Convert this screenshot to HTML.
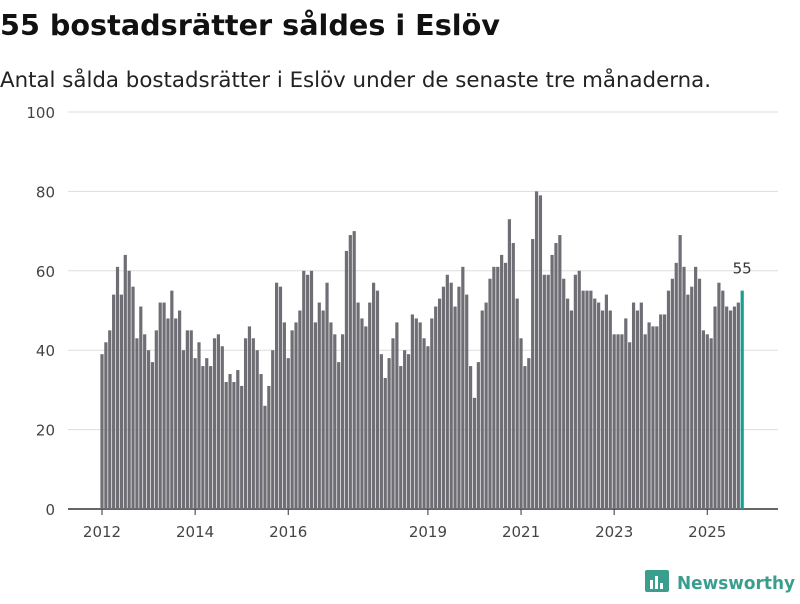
<!DOCTYPE html>
<html><head><meta charset="utf-8"><style>
body{margin:0;background:#fff;width:800px;height:600px;overflow:hidden;font-family:"DejaVu Sans",sans-serif}
</style></head><body>
<svg width="800" height="600" id="svg" font-family="DejaVu Sans, sans-serif">
<text x="0" y="35" font-size="28.5" font-weight="bold" fill="#111" textLength="500" lengthAdjust="spacingAndGlyphs">55 bostadsrätter såldes i Eslöv</text>
<text x="0" y="87" font-size="21" fill="#222" textLength="711" lengthAdjust="spacingAndGlyphs">Antal sålda bostadsrätter i Eslöv under de senaste tre månaderna.</text>
<g id="grid"></g><g id="bars"></g><g id="xaxis"></g>
<g>
<rect x="645" y="570" width="24" height="22" rx="2" fill="#3a9e8f"/>
<rect x="650" y="580" width="3" height="9" fill="#fff"/><rect x="655" y="576" width="3" height="13" fill="#fff"/><rect x="660" y="583" width="3" height="6" fill="#fff"/>
<text x="677" y="589" font-size="18" font-weight="bold" fill="#3a9e8f" textLength="118" lengthAdjust="spacingAndGlyphs">Newsworthy</text>
</g>
</svg>
<script>
const yTicks=[0,20,40,60,80,100];
const xTickLabels=["2012","2014","2016","2019","2021","2023","2025"];
const xTickIndex=[0,24,48,84,108,132,156];
const values=[39,42,45,54,61,54,64,60,56,43,51,44,
40,37,45,52,52,48,55,48,50,40,45,45,
38,42,36,38,36,43,44,41,32,34,32,35,
31,43,46,43,40,34,26,31,40,57,56,47,
38,45,47,50,60,59,60,47,52,50,57,47,
44,37,44,65,69,70,52,48,46,52,57,55,
39,33,38,43,47,36,40,39,49,48,47,43,
41,48,51,53,56,59,57,51,56,61,54,36,
28,37,50,52,58,61,61,64,62,73,67,53,
43,36,38,68,80,79,59,59,64,67,69,58,
53,50,59,60,55,55,55,53,52,50,54,50,
44,44,44,48,42,52,50,52,44,47,46,46,
49,49,55,58,62,69,61,54,56,61,58,45,
44,43,51,57,55,51,50,51,52,55];
const NS="http://www.w3.org/2000/svg";
const y=v=>509-v*3.97;
const x=i=>102+i*3.88;
function mk(t,a,p){const e=document.createElementNS(NS,t);for(const k in a)e.setAttribute(k,a[k]);p.appendChild(e);return e;}
const grid=document.getElementById('grid');
yTicks.forEach(t=>{
 const l=mk('line',{x1:68,x2:778,y1:y(t),y2:y(t),stroke:t===0?'#333':'#ddd','stroke-width':t===0?1.5:1},grid);
 
 
 const tx=mk('text',{x:55,y:y(t)+6,'text-anchor':'end','font-size':15,fill:'#444'},grid);
 tx.textContent=t;
 
 
});
const bars=document.getElementById('bars');
values.forEach((v,i)=>{
 const last=i===values.length-1;
 const r=mk('rect',{x:x(i)-1.6,y:y(v),width:3.2,height:y(0)-y(v),fill:last?'#1a9e8f':'#6f6e74'},bars);
 
 
});
const li=values.length-1;
const lab=mk('text',{x:x(li),y:y(values[li])-17,'text-anchor':'middle','font-size':15,fill:'#333'},bars);
lab.textContent=values[li];


const xa=document.getElementById('xaxis');
xTickLabels.forEach((s,k)=>{
 const xx=x(xTickIndex[k]);
 const tk=mk('line',{x1:xx,x2:xx,y1:509,y2:515,stroke:'#333'},xa);
 
 
 const t=mk('text',{x:xx,y:537,'text-anchor':'middle','font-size':15,fill:'#444'},xa);
 t.textContent=s;
 
 
});
</script>
</body></html>
